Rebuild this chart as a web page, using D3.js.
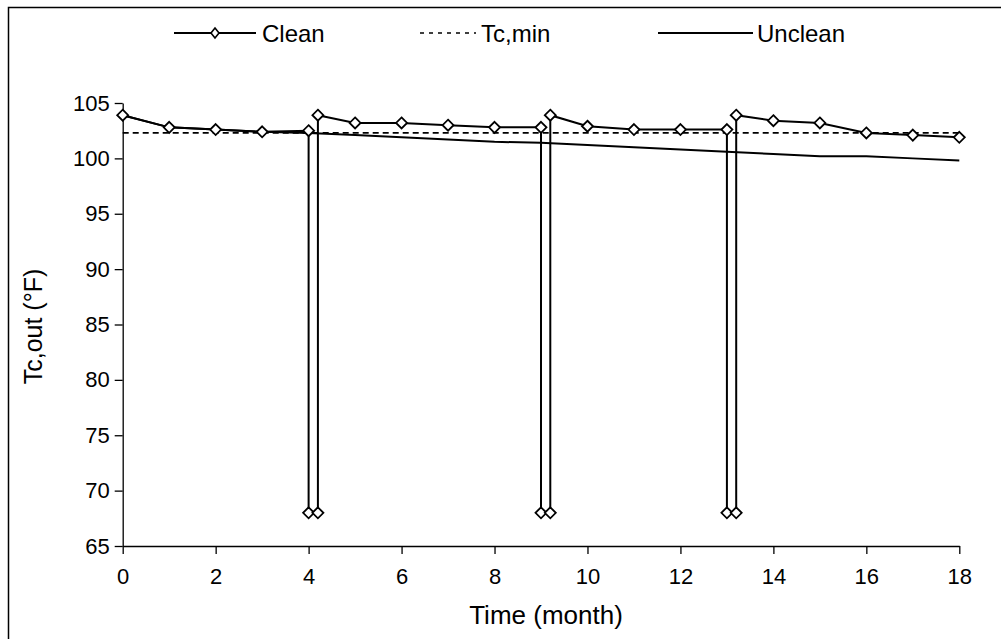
<!DOCTYPE html>
<html>
<head>
<meta charset="utf-8">
<script src="https://cdn.jsdelivr.net/npm/d3@7"></script>
<style>
  body { margin: 0; background: #fff; }
  text { font-family: "Liberation Sans", Arial, sans-serif; fill: #000; }
</style>
</head>
<body>
<svg id="chart"></svg>
<script>
// ------------------------------------------------------------------
//  Tc,out vs time : clean / unclean / Tc,min
// ------------------------------------------------------------------

var width = 1001,
    height = 639;

// data
var cleanMonths = [0, 1, 2, 3, 4, 4, 4.2, 4.2, 5, 6, 7, 8, 9, 9, 9.2, 9.2,
                   10, 11, 12, 13, 13, 13.2, 13.2, 14, 15, 16, 17, 18];
var cleanTemps  = [103.9, 102.8, 102.6, 102.4, 102.5, 68, 68, 103.9, 103.2, 103.2, 103.0, 102.8, 102.8, 68, 68, 103.9,
                   102.9, 102.6, 102.6, 102.6, 68, 68, 103.9, 103.4, 103.2, 102.3, 102.1, 101.9];

var months        = [0, 1, 2, 3, 4, 5, 6, 7, 8, 9, 10, 11, 12, 13, 14, 15, 16, 17, 18];
var uncleanTemps  = [103.9, 102.8, 102.6, 102.4, 102.3, 102.1, 101.9, 101.7, 101.5, 101.4,
                     101.2, 101.0, 100.8, 100.6, 100.4, 100.2, 100.2, 100.0, 99.8];
var tcMinTemps    = [102.3, 102.3, 102.3, 102.3, 102.3, 102.3, 102.3, 102.3, 102.3, 102.3,
                     102.3, 102.3, 102.3, 102.3, 102.3, 102.3, 102.3, 102.3, 102.3];

var xTicks = [0, 2, 4, 6, 8, 10, 12, 14, 16, 18];
var yTicks = [65, 70, 75, 80, 85, 90, 95, 100, 105];

var legendNames = ["Clean", "Tc,min", "Unclean"];

var svg = d3.select("#chart")
  .attr("width", width)
  .attr("height", height);

// outer frame
svg.append("rect")
  .attr("x", 8.5).attr("y", 7.5)
  .attr("width", 1000).attr("height", 700)
  .attr("fill", "none")
  .attr("stroke", "#000")
  .attr("stroke-width", 1.5);

var x = d3.scaleLinear().domain([0, 18]).range([122.7, 959.3]);
var y = d3.scaleLinear().domain([65, 105]).range([546, 103]);

// axes
var xAxis = svg.append("g")
  .attr("transform", "translate(0,546)")
  .call(d3.axisBottom(x).tickValues(xTicks).tickSize(8).tickPadding(14).tickSizeOuter(0));
var yAxis = svg.append("g")
  .attr("transform", "translate(122.7,0)")
  .call(d3.axisLeft(y).tickValues(yTicks).tickSize(8).tickPadding(5).tickSizeOuter(0));

[xAxis, yAxis].forEach(function (g) {
  g.select(".domain").attr("stroke", "#000").attr("stroke-width", 1.3);
  g.selectAll(".tick line").attr("stroke", "#000").attr("stroke-width", 1.3);
  g.selectAll(".tick text")
    .attr("fill", "#000")
    .style("font-family", "'Liberation Sans', Arial, sans-serif")
    .style("font-size", "22px");
});

// axis titles
svg.append("text")
  .attr("x", x(9) + 5).attr("y", 624)
  .attr("text-anchor", "middle")
  .style("font-size", "26px")
  .text("Time (month)");

svg.append("text")
  .attr("transform", "translate(42," + (y(85) + 2) + ") rotate(-90)")
  .attr("text-anchor", "middle")
  .style("font-size", "25px")
  .text("Tc,out (°F)");

// lines
var line = d3.line()
  .x(function (d) { return x(d[0]); })
  .y(function (d) { return y(d[1]); });

var tcMinPts   = d3.zip(months, tcMinTemps);
var uncleanPts = d3.zip(months, uncleanTemps);
var cleanPts   = d3.zip(cleanMonths, cleanTemps);

svg.append("path")
  .attr("d", line(tcMinPts))
  .attr("fill", "none")
  .attr("stroke", "#000")
  .attr("stroke-width", 1.6)
  .attr("stroke-dasharray", "6,4");

svg.append("path")
  .attr("d", line(uncleanPts))
  .attr("fill", "none")
  .attr("stroke", "#000")
  .attr("stroke-width", 2);

svg.append("path")
  .attr("d", line(cleanPts))
  .attr("fill", "none")
  .attr("stroke", "#000")
  .attr("stroke-width", 2);

// diamond markers
var diamond = "M0,-5.5L5.5,0L0,5.5L-5.5,0Z";
svg.selectAll(".mark")
  .data(cleanPts)
  .enter()
  .append("path")
    .attr("class", "mark")
    .attr("d", diamond)
    .attr("transform", function (d) { return "translate(" + x(d[0]) + "," + y(d[1]) + ")"; })
    .attr("fill", "#fff")
    .attr("stroke", "#000")
    .attr("stroke-width", 1.8);

// legend
var legY = 33;
var leg = [
  { name: legendNames[0], x1: 174, x2: 256, tx: 262, dash: null, marker: true },
  { name: legendNames[1], x1: 420, x2: 476, tx: 481, dash: "4,5", marker: false },
  { name: legendNames[2], x1: 658, x2: 753, tx: 757, dash: null, marker: false }
];
leg.forEach(function (l) {
  svg.append("line")
    .attr("x1", l.x1).attr("x2", l.x2)
    .attr("y1", legY).attr("y2", legY)
    .attr("stroke", "#000")
    .attr("stroke-width", l.dash ? 1.5 : 2)
    .attr("stroke-dasharray", l.dash);
  if (l.marker) {
    svg.append("path")
      .attr("d", "M0,-5L4,0L0,5L-4,0Z")
      .attr("transform", "translate(" + ((l.x1 + l.x2) / 2) + "," + legY + ")")
      .attr("fill", "#fff")
      .attr("stroke", "#000")
      .attr("stroke-width", 1.6);
  }
  svg.append("text")
    .attr("x", l.tx).attr("y", legY)
    .attr("dy", "0.36em")
    .style("font-size", "24px")
    .text(l.name);
});
</script>
</body>
</html>
